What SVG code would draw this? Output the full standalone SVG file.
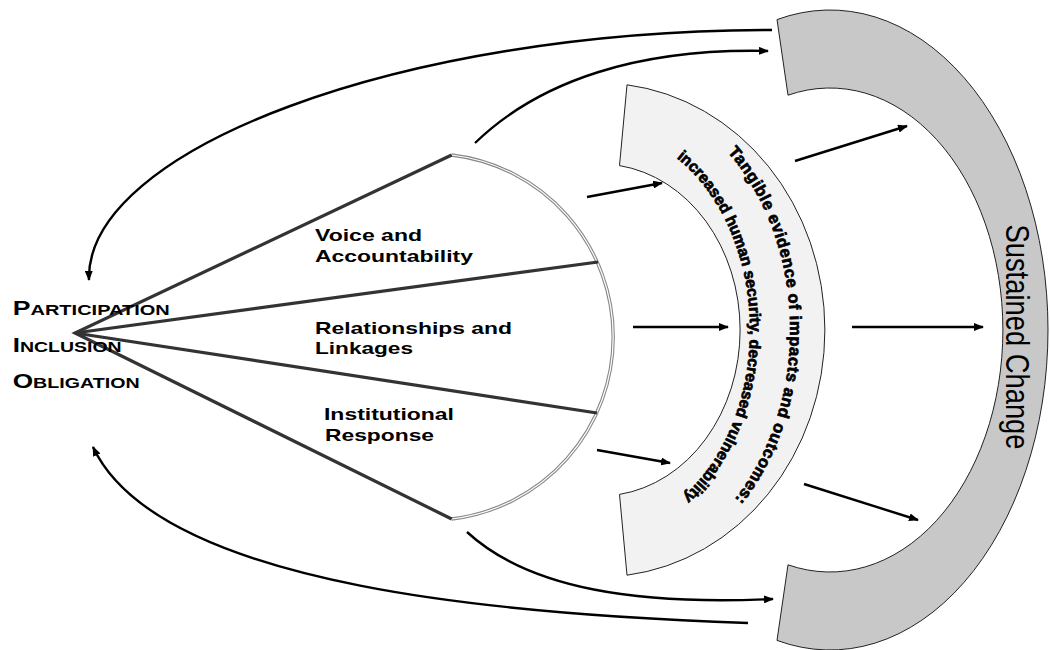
<svg xmlns="http://www.w3.org/2000/svg" width="1050" height="650" viewBox="0 0 1050 650">
<defs>
<marker id="ah" markerUnits="userSpaceOnUse" markerWidth="10" markerHeight="8" refX="9" refY="4" orient="auto">
<path d="M0,0 L10,4 L0,8 Z" fill="#000"/>
</marker>
<path id="pOuter" d="M 727.5,152 A 190 240 0 0 1 727.5,508"/>
<path id="pInner" d="M 676.5,158 A 150 200 0 0 1 676.5,502"/>
</defs>
<style>
.conn{fill:none;stroke:#000;stroke-width:2.4}
.fanline{stroke:#333;stroke-width:3.2;fill:none}
.lbl{font-family:"Liberation Sans",Arial,sans-serif;font-weight:bold;font-size:17px;fill:#000}
.pio{font-family:"Liberation Sans",Arial,sans-serif;font-weight:bold;fill:#000}
.band{font-family:"Liberation Sans",Arial,sans-serif;font-weight:bold;fill:#000;stroke:#000;stroke-width:0.7}
</style>
<rect width="1050" height="650" fill="#fff"/>

<g id="sustained-change">
<path d="M 777,19.6 A 218 320 0 1 1 777,640.4 L 788,564.8 A 173 242 0 1 0 788,95.2 Z" fill="#c8c8c8" stroke="#222" stroke-width="1"/>
<text transform="translate(1006,337) rotate(90) scale(1,1.3)" text-anchor="middle" font-family="Liberation Sans,Arial,sans-serif" font-size="26" textLength="225" lengthAdjust="spacingAndGlyphs">Sustained Change</text>
</g>

<g id="evidence">
<path d="M 627,84.8 A 225 247 0 0 1 627,575.2 L 619.5,494.4 A 140 166 0 0 0 619.5,165.6 Z" fill="#f2f2f2" stroke="#222" stroke-width="1"/>
<text class="band" font-size="16.5"><textPath href="#pOuter" textLength="374" lengthAdjust="spacing">Tangible evidence of impacts and outcomes:</textPath></text>
<text class="band" font-size="15.8"><textPath href="#pInner" textLength="378" lengthAdjust="spacing">increased human security, decreased vulnerability</textPath></text>
</g>

<g id="fan">
<path d="M 451.7,155 A 183.3 183.3 0 0 1 451.7,519" fill="none" stroke="#888" stroke-width="3.4"/>
<path d="M 451.7,155 A 183.3 183.3 0 0 1 451.7,519" fill="none" stroke="#fff" stroke-width="1.2"/>
<path class="fanline" d="M 451.7,155 L 75,333 L 451.7,519"/>
<path class="fanline" d="M 75,333 L 598,262"/>
<path class="fanline" d="M 75,333 L 597,413"/>
</g>

<g id="voice">
<text class="lbl" x="315" y="241" textLength="107" lengthAdjust="spacingAndGlyphs">Voice and</text>
<text class="lbl" x="315" y="262" textLength="158" lengthAdjust="spacingAndGlyphs">Accountability</text>
</g>
<g id="relationships">
<text class="lbl" x="315" y="334" textLength="197" lengthAdjust="spacingAndGlyphs">Relationships and</text>
<text class="lbl" x="315" y="354" textLength="98" lengthAdjust="spacingAndGlyphs">Linkages</text>
</g>
<g id="institutional">
<text class="lbl" x="324" y="420" textLength="130" lengthAdjust="spacingAndGlyphs">Institutional</text>
<text class="lbl" x="325" y="441" textLength="109" lengthAdjust="spacingAndGlyphs">Response</text>
</g>

<g id="principles">
<text class="pio" x="12.7" y="315" textLength="157" lengthAdjust="spacingAndGlyphs"><tspan font-size="20">P</tspan><tspan font-size="15">ARTICIPATION</tspan></text>
<text class="pio" x="12.7" y="352" textLength="109" lengthAdjust="spacingAndGlyphs"><tspan font-size="20">I</tspan><tspan font-size="15">NCLUSION</tspan></text>
<text class="pio" x="12.7" y="388" textLength="127" lengthAdjust="spacingAndGlyphs"><tspan font-size="20">O</tspan><tspan font-size="15">BLIGATION</tspan></text>
</g>

<g id="connectors">
<path class="conn" d="M 772,30 C 400,30 85,150 89,280" marker-end="url(#ah)"/>
<path class="conn" d="M 475,143 C 540,80 640,48 768,51" marker-end="url(#ah)"/>
<path class="conn" d="M 587,197 L 662,183" marker-end="url(#ah)"/>
<path class="conn" d="M 795,161 L 907,126" marker-end="url(#ah)"/>
<path class="conn" d="M 633,327 L 728,327" marker-end="url(#ah)"/>
<path class="conn" d="M 852,327 L 983,327" marker-end="url(#ah)"/>
<path class="conn" d="M 597,450 L 670,463" marker-end="url(#ah)"/>
<path class="conn" d="M 804,484 L 918,520" marker-end="url(#ah)"/>
<path class="conn" d="M 467,532 C 530,590 640,605 773,599" marker-end="url(#ah)"/>
<path class="conn" d="M 748,623 C 520,615 160,590 93,447" marker-end="url(#ah)"/>
</g>
</svg>
